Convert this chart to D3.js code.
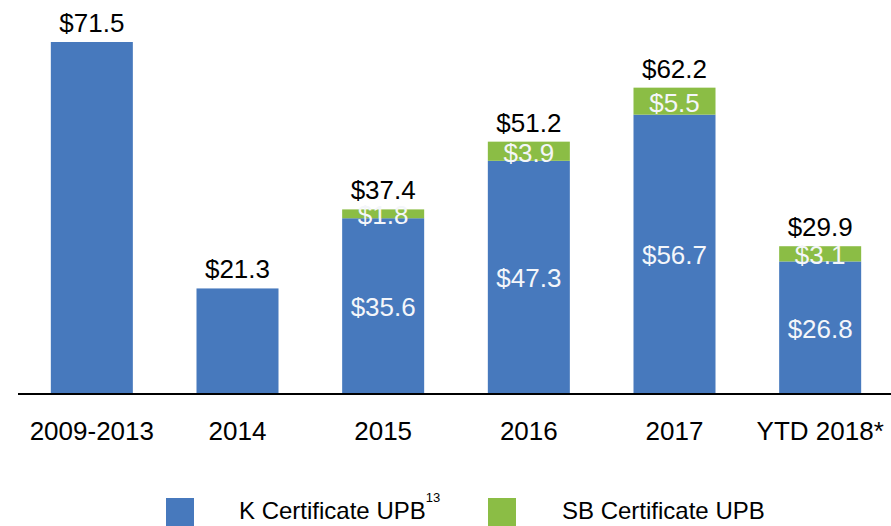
<!DOCTYPE html>
<html>
<head>
<meta charset="utf-8">
<script src="https://cdn.jsdelivr.net/npm/d3@7"></script>
<style>
  body { margin: 0; background: #fff; }
  svg { display: block; font-family: Arial, "Liberation Sans", sans-serif; }
</style>
</head>
<body>
<svg width="891" height="526"></svg>
<script>
// chart data
var categories = ["2009-2013", "2014", "2015", "2016", "2017", "YTD 2018*"];
var kValues = [71.5, 21.3, 35.6, 47.3, 56.7, 26.8];
var sbValues = [0, 0, 1.8, 3.9, 5.5, 3.1];
var totals = [71.5, 21.3, 37.4, 51.2, 62.2, 29.9];
var seriesNames = ["K Certificate UPB", "SB Certificate UPB"];

var blue = "#4779bd", green = "#8bbd45";

var svg = d3.select("svg"),
    width = +svg.attr("width"),
    height = +svg.attr("height");

var baseY = 393;

var x = d3.scaleBand()
    .domain(categories)
    .range([19, 893])
    .paddingInner(0.437)
    .paddingOuter(0.2185);

var y = d3.scaleLinear()
    .domain([0, 71.5])
    .range([baseY, 42]);

// stack the two series
var rows = categories.map(function(c, i) {
  return { cat: c, k: kValues[i], sb: sbValues[i], total: totals[i] };
});
var stack = d3.stack().keys(["k", "sb"]);
var layers = stack(rows);
var colors = { k: blue, sb: green };

var bars = svg.append("g");
layers.forEach(function(layer) {
  bars.selectAll(null)
    .data(layer.filter(function(d) { return d[1] - d[0] > 0; }))
    .enter().append("rect")
    .attr("x", function(d) { return x(d.data.cat); })
    .attr("width", x.bandwidth())
    .attr("y", function(d) { return y(d[1]); })
    .attr("height", function(d) { return y(d[0]) - y(d[1]); })
    .attr("fill", colors[layer.key]);
});

// inner labels (only for stacked bars)
layers.forEach(function(layer) {
  bars.selectAll(null)
    .data(layer.filter(function(d) { return d.data.sb > 0; }))
    .enter().append("text")
    .attr("x", function(d) { return x(d.data.cat) + x.bandwidth() / 2; })
    .attr("y", function(d) { return (y(d[0]) + y(d[1])) / 2; })
    .attr("dy", "0.4em")
    .attr("text-anchor", "middle")
    .attr("font-size", 26)
    .attr("fill", "#f4f6fa")
    .text(function(d) { return "$" + (d[1] - d[0]).toFixed(1); });
});

// totals above bars
svg.append("g").selectAll("text")
  .data(rows)
  .enter().append("text")
  .attr("x", function(d) { return x(d.cat) + x.bandwidth() / 2; })
  .attr("y", function(d) { return y(d.total) - 10; })
  .attr("text-anchor", "middle")
  .attr("font-size", 26)
  .attr("fill", "#000")
  .text(function(d) { return "$" + d.total.toFixed(1); });

// x axis
var xAxis = svg.append("g")
  .attr("transform", "translate(0," + (baseY + 1) + ")")
  .call(d3.axisBottom(x).tickSize(0).tickPadding(28));
xAxis.select(".domain").attr("d", "M18,0H891").attr("stroke", "#000").attr("stroke-width", 2);
xAxis.selectAll("text")
  .attr("font-size", 26)
  .attr("font-family", "Arial, 'Liberation Sans', sans-serif")
  .attr("fill", "#000");

// legend
var legend = svg.append("g");
var legX = [166, 488], textX = [239, 562];
seriesNames.forEach(function(name, i) {
  legend.append("rect")
    .attr("x", legX[i]).attr("y", 498)
    .attr("width", 28).attr("height", 28)
    .attr("fill", i === 0 ? blue : green);
  var t = legend.append("text")
    .attr("x", textX[i]).attr("y", 519)
    .attr("font-size", 24)
    .attr("fill", "#000")
    .text(name);
  if (i === 0) {
    t.append("tspan")
      .attr("dy", -17)
      .attr("font-size", 13)
      .text("13");
  }
});
</script>
</body>
</html>
